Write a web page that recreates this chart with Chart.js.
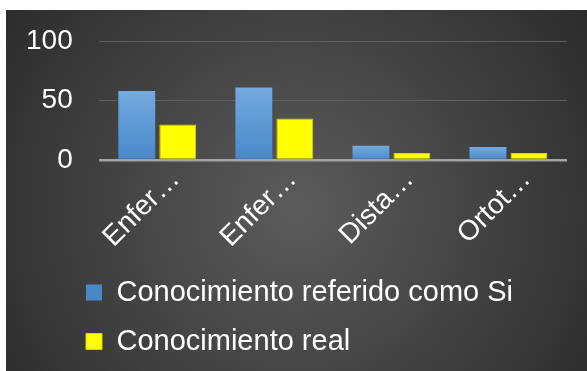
<!DOCTYPE html>
<html lang="es">
<head>
<meta charset="UTF-8">
<title>Conocimiento</title>
<script src="https://cdn.jsdelivr.net/npm/chart.js"></script>
<style>
  html, body { margin: 0; padding: 0; background: #fff; }
  #wrap { position: absolute; left: 6px; top: 10px; width: 581px; height: 361px; }
</style>
</head>
<body>
<div id="wrap"><canvas id="chart"></canvas></div>
<script>
// chart data
const categories = ['Enfer\u2026', 'Enfer\u2026', 'Dista\u2026', 'Ortot\u2026'];
const seriesNames = ['Conocimiento referido como Si', 'Conocimiento real'];
const referidoSi = [58, 61, 12, 11];
const real = [30, 35, 6, 6];
const yTicks = [0, 50, 100];

const FONT = '"Liberation Sans", Arial, sans-serif';

// dark radial background
const background = {
  id: 'background',
  beforeDraw(chart) {
    const { ctx, width, height } = chart;
    const g = ctx.createRadialGradient(width * 0.5, height * 0.55, 10, width * 0.5, height * 0.55, width * 0.62);
    g.addColorStop(0, '#5a5a5a');
    g.addColorStop(1, '#2b2b2b');
    ctx.save();
    ctx.fillStyle = g;
    ctx.fillRect(0, 0, width, height);
    ctx.restore();
  }
};

// legend sits further right than chart.js puts it with align start
const legendShift = {
  id: 'legendShift',
  afterLayout(chart) {
    const lg = chart.legend;
    const dx = 60 - lg.left;
    lg.left += dx;
    lg.right += dx;
  }
};

// blue bars get a light-to-dark gradient per bar
function blueFill(c) {
  const chart = c.chart;
  if (!chart.chartArea || c.type !== 'data') return '#5b9bd5';
  const y = chart.scales.y;
  const top = y.getPixelForValue(c.raw);
  const bottom = y.getPixelForValue(0);
  if (!isFinite(top) || bottom - top < 1) return '#5b9bd5';
  const g = chart.ctx.createLinearGradient(0, top, 0, bottom);
  g.addColorStop(0, '#74aadf');
  g.addColorStop(1, '#4888c9');
  return g;
}

new Chart(document.getElementById('chart'), {
  type: 'bar',
  data: {
    labels: categories,
    datasets: [
      {
        label: seriesNames[0],
        data: referidoSi,
        backgroundColor: blueFill,
        borderWidth: 0,
        categoryPercentage: 0.7,
        barPercentage: 0.9
      },
      {
        label: seriesNames[1],
        data: real,
        backgroundColor: '#ffff00',
        borderColor: '#d6d600',
        borderWidth: 1,
        categoryPercentage: 0.7,
        barPercentage: 0.9
      }
    ]
  },
  options: {
    responsive: true,
    maintainAspectRatio: false,
    animation: false,
    layout: { padding: { left: 20, right: 20, top: 31, bottom: 5 } },
    scales: {
      x: {
        grid: { display: false },
        border: { display: false },
        afterFit(scale) {
          scale.paddingLeft = 0;
          scale.paddingRight = 0;
          scale.height += 9;
        },
        ticks: {
          color: '#ffffff',
          font: { family: FONT, size: 28 },
          minRotation: 45,
          maxRotation: 45,
          padding: -5,
          labelOffset: 18,
          autoSkip: false
        }
      },
      y: {
        min: 0,
        max: 100,
        afterBuildTicks(scale) {
          scale.ticks = yTicks.map(v => ({ value: v }));
        },
        afterFit(scale) {
          // chart.js counts tick padding twice in the axis width
          scale.width -= scale.options.ticks.padding;
          scale.paddingTop = 0;
          scale.paddingBottom = 0;
        },
        border: { display: false },
        grid: {
          drawTicks: false,
          color: c => (c.tick && c.tick.value === 0) ? '#a3a3a3' : '#5e5e5e',
          lineWidth: c => (c.tick && c.tick.value === 0) ? 2.5 : 1
        },
        ticks: {
          color: '#ffffff',
          font: { family: FONT, size: 28 },
          padding: 26
        }
      }
    },
    plugins: {
      legend: {
        position: 'bottom',
        align: 'start',
        labels: {
          color: '#ffffff',
          font: { family: FONT, size: 29 },
          boxWidth: 16,
          boxHeight: 16,
          padding: 20
        }
      },
      tooltip: { enabled: false }
    }
  },
  plugins: [background, legendShift]
});
</script>
</body>
</html>
